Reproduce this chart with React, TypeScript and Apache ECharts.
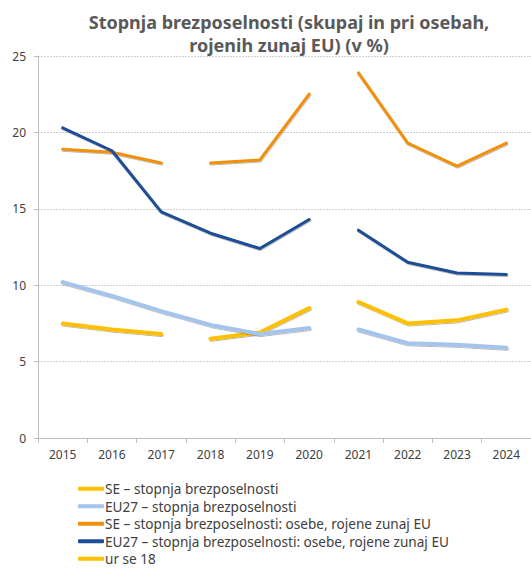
import React, { useEffect, useRef } from "react";
import * as echarts from "echarts";

const years = ["2015", "2016", "2017", "2018", "2019", "2020", "2021", "2022", "2023", "2024"];
const seTotal = [7.5, 7.1, 6.8, 6.5, 6.9, 8.5, 8.9, 7.5, 7.7, 8.4];
const euTotal = [10.2, 9.3, 8.3, 7.4, 6.8, 7.2, 7.1, 6.2, 6.1, 5.9];
const seNonEu = [18.9, 18.7, 18.0, 18.0, 18.2, 22.5, 23.9, 19.3, 17.8, 19.3];
const euNonEu = [20.3, 18.8, 14.8, 13.4, 12.4, 14.3, 13.6, 11.5, 10.8, 10.7];
// segments (index ranges) drawn as connected pieces
const seSegments = [[0, 2], [3, 5], [6, 9]];
const euSegments = [[0, 5], [6, 9]];

const names = [
  "SE – stopnja brezposelnosti",
  "EU27 – stopnja brezposelnosti",
  "SE – stopnja brezposelnosti: osebe, rojene zunaj EU",
  "EU27 – stopnja brezposelnosti: osebe, rojene zunaj EU",
  "ur se 18",
];

const FONT = "'Noto Sans', sans-serif";

function segSeries(name: string, values: number[], segs: number[][], color: string, width: number) {
  return segs.map(([a, b]) => ({
    name,
    type: "line",
    symbol: "none",
    data: values.map((v, i) => (i >= a && i <= b ? v : null)),
    lineStyle: {
      color,
      width,
      cap: "round",
      join: "round",
      shadowColor: "rgba(0,0,0,0.3)",
      shadowBlur: 1.5,
      shadowOffsetX: 0.5,
      shadowOffsetY: 1,
    },
    itemStyle: { color },
    z: 2,
  }));
}

export default function App() {
  const ref = useRef<HTMLDivElement>(null);
  useEffect(() => {
    const chart = echarts.init(ref.current!, null, { renderer: "svg" });
    chart.setOption({
      animation: false,
      textStyle: { fontFamily: FONT },
      title: {
        text: "Stopnja brezposelnosti (skupaj in pri osebah,\nrojenih zunaj EU) (v %)",
        left: 284,
        top: 5,
        textAlign: "center",
        textStyle: { fontFamily: FONT, fontSize: 18, fontWeight: "bold", color: "#595959", lineHeight: 23 },
      },
      grid: { left: 38, top: 56, width: 502, height: 382, containLabel: false },
      legend: {
        orient: "vertical",
        left: 73,
        top: 475,
        height: 92,
        itemGap: 0,
        itemWidth: 26,
        itemHeight: 4,
        icon: "roundRect",
        data: names,
        textStyle: { fontFamily: FONT, fontSize: 13.6, color: "#404040", lineHeight: 17.5, padding: [0, 0, 0, -4] },
      },
      xAxis: {
        type: "category",
        data: years,
        boundaryGap: true,
        axisLine: { lineStyle: { color: "#BFBFBF", width: 1 } },
        axisTick: { show: true, alignWithLabel: false, length: 5, lineStyle: { color: "#BFBFBF" } },
        axisLabel: { fontFamily: FONT, fontSize: 12, color: "#404040", margin: 10, interval: 0 },
        splitLine: { show: false },
      },
      yAxis: {
        type: "value",
        min: 0,
        max: 25,
        interval: 5,
        axisLine: { show: true, lineStyle: { color: "#BFBFBF", width: 1 } },
        axisTick: { show: true, length: 4, lineStyle: { color: "#BFBFBF" } },
        axisLabel: { fontFamily: FONT, fontSize: 12, color: "#404040", margin: 12 },
        splitLine: { show: true, lineStyle: { color: "#CFCFCF", type: [2, 1], width: 1 } },
      },
      series: [
        ...segSeries(names[0], seTotal, seSegments, "#FFC000", 4),
        ...segSeries(names[1], euTotal, euSegments, "#A4C4EE", 4),
        ...segSeries(names[2], seNonEu, seSegments, "#F0900F", 3),
        ...segSeries(names[3], euNonEu, euSegments, "#1F4E96", 3),
        {
          name: names[4],
          type: "line",
          symbol: "none",
          data: [],
          lineStyle: { color: "#FFC000", width: 4, cap: "round" },
          itemStyle: { color: "#FFC000" },
        },
      ],
    });
    return () => chart.dispose();
  }, []);
  return <div ref={ref} style={{ width: 531, height: 570, position: "absolute", left: 0, top: 0 }} />;
}
